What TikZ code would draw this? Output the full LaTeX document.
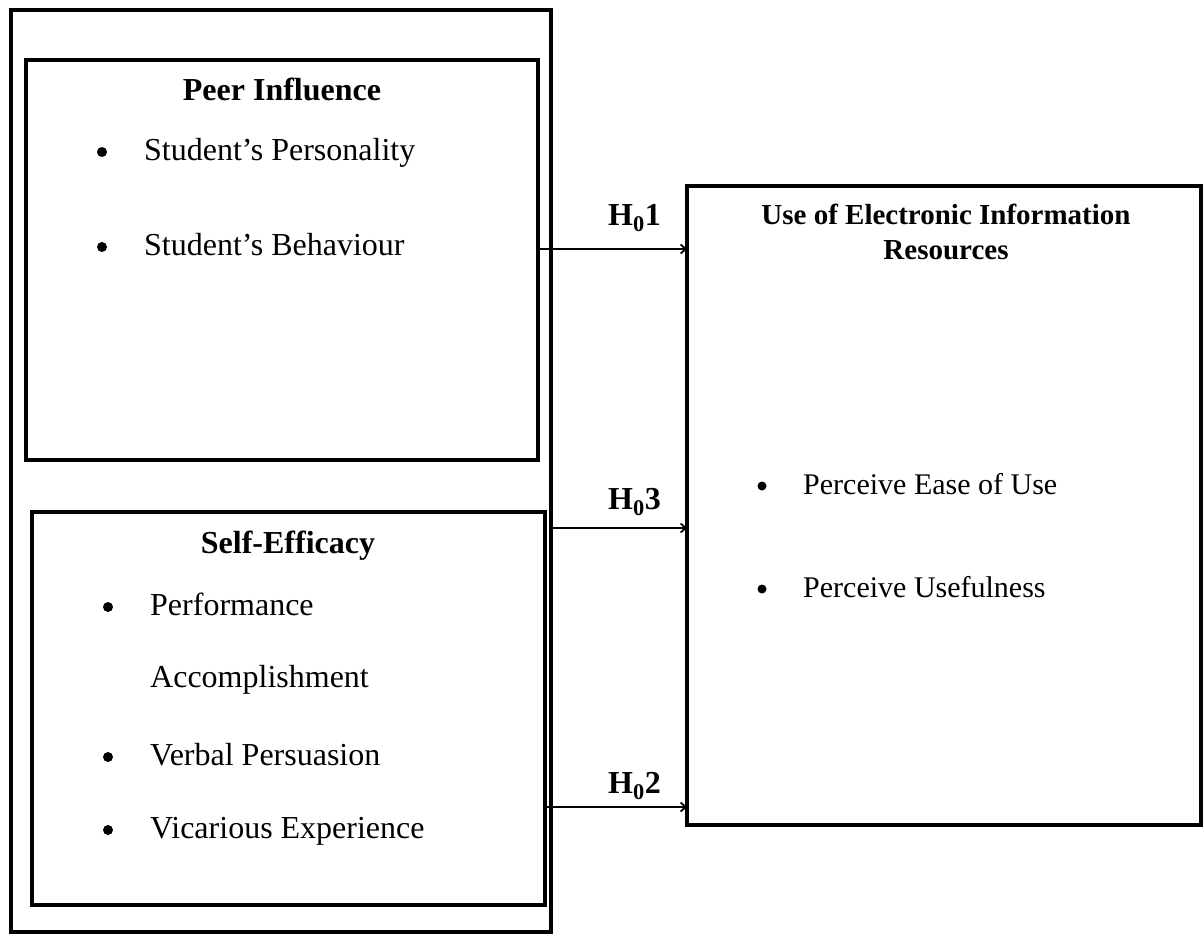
\documentclass[tikz,border=0pt]{standalone}
\usepackage{fontspec}
\setmainfont{Liberation Serif}
\usetikzlibrary{arrows.meta}
\newcommand{\liga}{\draw[-{Straight Barb[length=5pt,width=9pt]},line width=1.8pt]}

\begin{document}
\begin{tikzpicture}[x=1pt,y=-1pt,
    caixa/.style={draw,line width=4.5pt,inner sep=0pt,outer sep=0pt},
    item/.style={anchor=base west,inner sep=0pt,font=\fontsize{32}{38}\selectfont},
    marca/.style={circle,fill,inner sep=0pt,minimum size=10pt},
    titulo/.style={anchor=base,inner sep=0pt,font=\bfseries\fontsize{32}{38}\selectfont},
    hip/.style={anchor=base west,inner sep=0pt,font=\bfseries\fontsize{32}{38}\selectfont}]
      \useasboundingbox (0,0) rectangle (1204,937);

      % caixas
      \node(ext)  [caixa,minimum width=540,minimum height=922] at (281,471) {};
      \node(peer) [caixa,minimum width=512,minimum height=400] at (282,260) {};
      \node(self) [caixa,minimum width=513,minimum height=393] at (288.5,708.5) {};
      \node(uso)  [caixa,minimum width=514,minimum height=639] at (944,505.5) {};

      % influência dos pares
      \node(tpeer) [titulo] at (282,100) {Peer Influence};
      \node(m1)    [marca]  at (102,152) {};
      \node(pers)  [item]   at (144,160) {Student’s Personality};
      \node(m2)    [marca]  at (102,247) {};
      \node(comp)  [item]   at (144,255) {Student’s Behaviour};

      % autoeficácia
      \node(tself) [titulo] at (288,553) {Self-Efficacy};
      \node(m3)    [marca]  at (108,607) {};
      \node(perf)  [item]   at (150,615) {Performance};
      \node(acc)   [item]   at (150,687) {Accomplishment};
      \node(m4)    [marca]  at (108,757) {};
      \node(verb)  [item]   at (150,765) {Verbal Persuasion};
      \node(m5)    [marca]  at (108,830) {};
      \node(vic)   [item]   at (150,838) {Vicarious Experience};

      % uso de recursos eletrônicos
      \node(tuso) [anchor=north,inner sep=0pt,align=center,
                   font=\bfseries\fontsize{29}{35}\selectfont] at (946,204)
                   {Use of Electronic Information\\Resources};
      \node(m6)   [marca,minimum size=9pt] at (762,486) {};
      \node(ease) [item,font=\fontsize{30}{36}\selectfont]  at (803,494) {Perceive Ease of Use};
      \node(m7)   [marca,minimum size=9pt] at (762,589) {};
      \node(util) [item,font=\fontsize{30}{36}\selectfont]  at (803,597) {Perceive Usefulness};

      % hipóteses
      \node(h1) [hip] at (608,225) {H\textsubscript{0}1};
      \node(h3) [hip] at (608,509) {H\textsubscript{0}3};
      \node(h2) [hip] at (608,793) {H\textsubscript{0}2};

      \liga(peer.east |- 0,249) -- (uso.west |- 0,249);
      \liga(ext.east |- 0,528)  -- (uso.west |- 0,528);
      \liga(self.east |- 0,807) -- (uso.west |- 0,807);
   \end{tikzpicture}
\end{document}
